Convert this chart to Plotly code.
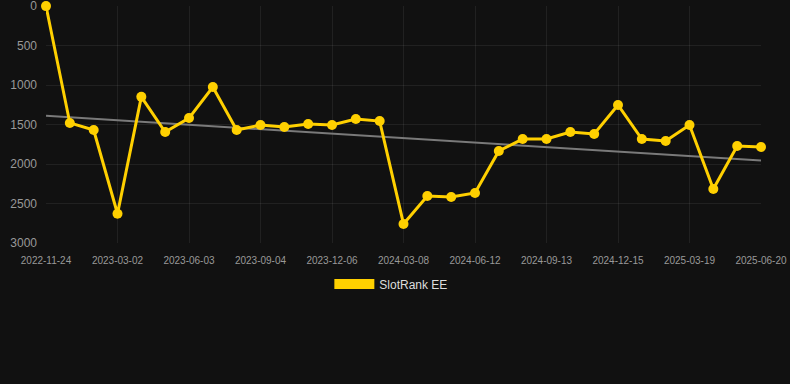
import plotly.graph_objects as go

dates = [
    "2022-11-24", "2022-12-27", "2023-01-29", "2023-03-02", "2023-04-02", "2023-05-03",
    "2023-06-03", "2023-07-04", "2023-08-04", "2023-09-04", "2023-10-05", "2023-11-05",
    "2023-12-06", "2024-01-06", "2024-02-06", "2024-03-08", "2024-04-09", "2024-05-11",
    "2024-06-12", "2024-07-13", "2024-08-13", "2024-09-13", "2024-10-14", "2024-11-14",
    "2024-12-15", "2025-01-15", "2025-02-16", "2025-03-19", "2025-04-19", "2025-05-20",
    "2025-06-20",
]
ranks = [
    1, 1480, 1570, 2630, 1150, 1595, 1418, 1025, 1570, 1506,
    1532, 1494, 1506, 1430, 1456, 2759, 2405, 2418, 2367, 1835,
    1684, 1684, 1595, 1620, 1253, 1684, 1709, 1506, 2316, 1772,
    1785,
]
trend_values = [1390, 1955]
y_ticks = [0, 500, 1000, 1500, 2000, 2500, 3000]
series_name = "SlotRank EE"

gold = "#FFD000"
bg = "#111111"
grid = "rgba(255,255,255,0.07)"

fig = go.Figure()
fig.add_trace(go.Scatter(
    x=[dates[0], dates[-1]], y=trend_values, mode="lines",
    line=dict(color="#7a7a7a", width=2), showlegend=False, hoverinfo="skip",
))
fig.add_trace(go.Scatter(
    x=dates, y=ranks, mode="lines+markers",
    line=dict(color=gold, width=3),
    marker=dict(color=gold, size=10),
    cliponaxis=False, showlegend=False,
))
fig.add_trace(go.Scatter(
    x=[None], y=[None], mode="lines", name=series_name,
    line=dict(color=gold, width=10), showlegend=True,
))

fig.update_layout(
    width=790, height=384,
    paper_bgcolor=bg, plot_bgcolor=bg,
    margin=dict(l=46, r=29, t=6, b=141, autoexpand=False),
    font=dict(family="Liberation Sans, Arial, sans-serif", color="#aaaaaa"),
    legend=dict(
        orientation="h", x=0.483, xanchor="center", y=-0.173, yanchor="middle",
        font=dict(size=12, color="#dddddd"), itemwidth=40,
        bgcolor="rgba(0,0,0,0)",
    ),
    xaxis=dict(
        type="category", categoryorder="array", categoryarray=dates,
        range=[0, 30], automargin=False,
        tickmode="array", tickvals=dates[::3], ticktext=dates[::3],
        showgrid=True, gridcolor=grid, gridwidth=1,
        zeroline=False, showline=False, ticks="",
        tickfont=dict(size=10, color="#999999"), tickangle=0,
        ticklabelstandoff=10,
    ),
    yaxis=dict(
        range=[3000, -0.5], tickmode="array", tickvals=y_ticks,
        automargin=False,
        showgrid=True, gridcolor=grid, gridwidth=1,
        zeroline=False, showline=False, ticks="",
        tickfont=dict(size=12, color="#999999"),
        ticklabelstandoff=8, ticklabeloverflow="allow",
    ),
)

fig.write_html("out.html", config={"displayModeBar": False},
               post_script="document.body.style.margin='0';")
